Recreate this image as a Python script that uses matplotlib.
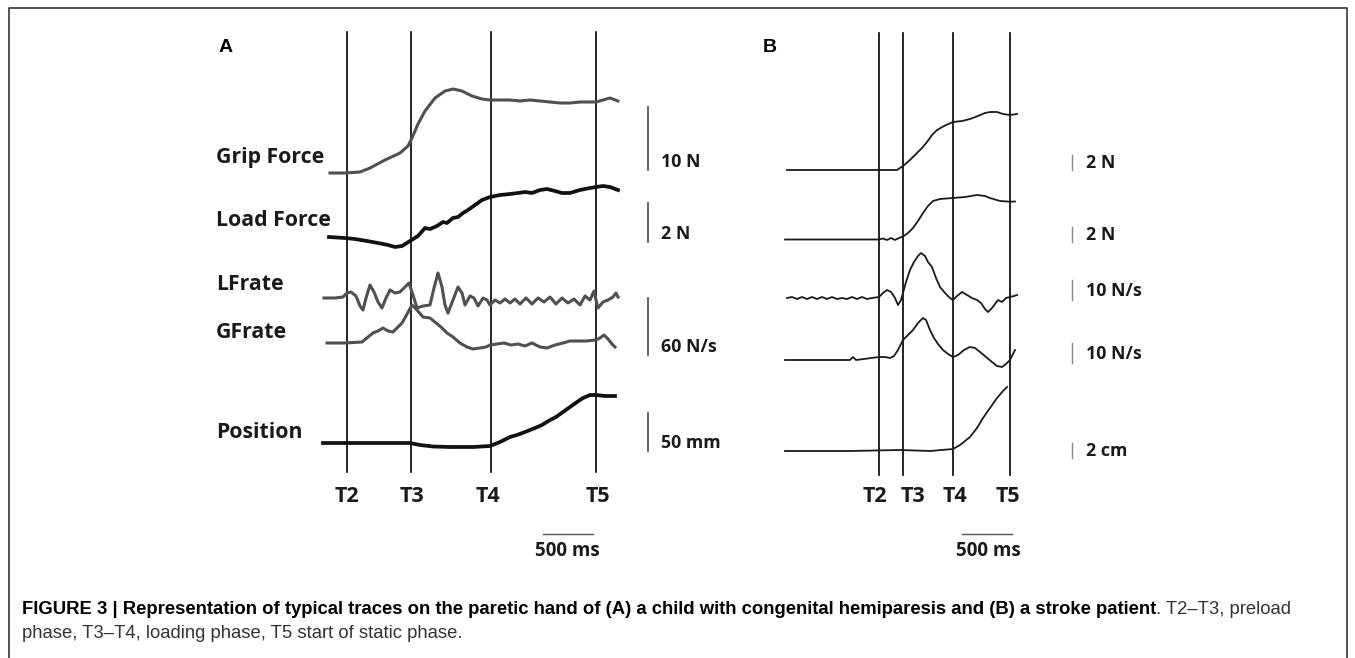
import numpy as np
import matplotlib
matplotlib.use('Agg')
import matplotlib.pyplot as plt

# --- panel A : child with congenital hemiparesis ---
grip_a_x = [330, 345, 360, 370, 385, 400, 408, 412, 418, 425, 435, 445, 453, 462, 472, 482, 490,
            500, 510, 520, 530, 540, 550, 560, 570, 580, 590, 596, 603, 610, 618]
grip_a_y = [173, 173, 172, 168, 160, 153, 146, 138, 124, 111, 98, 91, 89, 91, 96, 99, 100,
            100, 100, 101, 100, 101, 102, 103, 103, 102, 102, 102, 100, 98, 101]

load_a_x = [329, 345, 355, 367, 378, 388, 395, 402, 410, 418, 425, 430, 437, 443, 447, 453, 458, 463,
            468, 475, 482, 490, 500, 510, 518, 525, 532, 540, 547, 555, 562, 570, 580, 590, 596, 603,
            610, 618]
load_a_y = [237, 238, 239, 241, 243, 245, 247, 246, 241, 236, 228, 229, 226, 222, 223, 218, 217, 213,
            210, 205, 200, 197, 195, 194, 193, 192, 193, 190, 189, 191, 193, 193, 190, 188, 187, 186,
            187, 190]

lfrate_a_x = [324, 335, 343, 347, 351, 356, 360, 363, 366, 370, 374, 378, 382, 386, 390, 395, 400,
              405, 409, 413, 417, 423, 430, 434, 438, 442, 445, 448, 453, 458, 462, 465, 470, 474,
              478, 483, 487, 490, 495, 500, 505, 510, 515, 520, 526, 532, 538, 544, 550, 556, 562,
              568, 574, 580, 585, 590, 594, 596, 598, 603, 608, 613, 616, 618]
lfrate_a_y = [298, 298, 297, 293, 292, 296, 306, 310, 298, 285, 292, 302, 308, 298, 290, 293, 292,
              287, 283, 295, 308, 306, 305, 288, 273, 287, 305, 313, 300, 287, 293, 305, 296, 298,
              306, 298, 300, 305, 300, 303, 299, 303, 299, 304, 298, 304, 298, 302, 297, 304, 298,
              303, 299, 305, 296, 300, 291, 300, 308, 302, 300, 297, 293, 297]

gfrate_a_x = [327, 345, 362, 368, 373, 378, 383, 388, 393, 397, 402, 406, 412, 417, 423, 430, 436,
              441, 447, 453, 460, 467, 473, 480, 486, 490, 497, 504, 511, 518, 525, 532, 540, 547,
              555, 563, 570, 578, 586, 596, 600, 604, 608, 612, 615]
gfrate_a_y = [343, 343, 342, 337, 333, 331, 328, 331, 332, 328, 323, 316, 305, 310, 317, 318, 323,
              327, 333, 337, 343, 347, 349, 348, 347, 345, 344, 343, 345, 344, 346, 343, 347, 348,
              345, 343, 341, 341, 341, 340, 338, 335, 339, 344, 347]

pos_a_x = [323, 345, 380, 410, 420, 433, 450, 473, 490, 500, 510, 517, 525, 535, 542, 550, 556, 563,
           570, 577, 583, 590, 596, 605, 615]
pos_a_y = [443, 443, 443, 443, 445, 446.5, 447, 447, 446, 442, 437, 435, 432, 428, 425, 420, 417,
           412, 407, 402, 398, 395, 395, 396, 396]

# --- panel B : stroke patient ---
grip_b_x = [787, 850, 879, 897, 903, 910, 917, 922, 927, 932, 937, 944, 953, 962, 970, 978, 985,
            990, 997, 1003, 1010, 1017]
grip_b_y = [170, 170, 170, 170, 166, 160, 153, 148, 142, 135, 130, 126, 122, 121, 119, 116, 113,
            112, 112, 114, 115, 114]

load_b_x = [785, 850, 879, 883, 887, 891, 895, 899, 903, 908, 913, 918, 923, 928, 933, 940, 953,
            965, 977, 985, 990, 1000, 1010, 1015]
load_b_y = [239.5, 239.5, 239.5, 238.5, 240, 238, 240, 238, 236.5, 233, 228, 221, 213, 206, 201,
            199, 198, 197, 195, 196, 198, 201, 201.7, 201.5]

lfrate_b_x = [787, 792, 797, 802, 807, 812, 817, 822, 827, 832, 837, 842, 847, 852, 857, 862, 867,
              872, 879, 883, 887, 891, 895, 898, 901, 903, 906, 910, 914, 918, 921, 925, 928, 932,
              936, 940, 945, 950, 953, 957, 962, 967, 972, 977, 981, 985, 988, 992, 995, 998, 1002,
              1006, 1010, 1014, 1017]
lfrate_b_y = [298, 297, 299, 297, 299, 297, 299, 297, 299, 297, 299, 298, 299, 297, 299, 297, 299,
              298, 297, 293, 290, 292, 298, 305, 300, 293, 282, 270, 262, 256, 253, 256, 262, 267,
              278, 287, 293, 298, 300, 296, 292, 295, 298, 300, 303, 309, 312, 308, 304, 300, 302,
              298, 297, 296, 295]

gfrate_b_x = [785, 850, 853, 856, 879, 885, 890, 894, 898, 903, 908, 913, 918, 923, 926, 930, 934,
              938, 943, 948, 953, 958, 964, 970, 975, 980, 986, 992, 997, 1002, 1006, 1010, 1015]
gfrate_b_y = [360, 360, 357, 360, 357, 357, 358, 356, 350, 340, 335, 330, 323, 318, 320, 330, 338,
              344, 350, 354, 357, 355, 350, 347, 348, 352, 357, 362, 366, 367, 364, 360, 350]

pos_b_x = [785, 850, 900, 930, 953, 960, 965, 970, 977, 983, 990, 997, 1003, 1007]
pos_b_y = [451, 451, 450, 451, 449, 445, 441, 437, 428, 418, 408, 398, 391, 387]

# event markers and labels
events = ['T2', 'T3', 'T4', 'T5']
events_a = [346.7, 410.7, 490.7, 596]
events_b = [879.3, 903.3, 953.3, 1010]
labels_a = ['Grip Force', 'Load Force', 'LFrate', 'GFrate', 'Position']
units_a = ['10 N', '2 N', '60 N/s', '50 mm']
units_b = ['2 N', '2 N', '10 N/s', '10 N/s', '2 cm']

fig = plt.figure(figsize=(13.55, 6.58), dpi=100)
ax = fig.add_axes([0, 0, 1, 1])
ax.set_xlim(0, 1355)
ax.set_ylim(658, 0)
ax.axis('off')

# frame
ax.plot([9, 9, 1347, 1347], [658, 8, 8, 658], color='#333333', lw=1.2)

# vertical event lines
for x in events_a:
    ax.plot([x, x], [32, 472], color='black', lw=1.2)
for x in events_b:
    ax.plot([x, x], [33, 475], color='black', lw=1.2)

# traces A
ax.plot(grip_a_x, grip_a_y, color='#505050', lw=2.2, solid_joinstyle='round')
ax.plot(load_a_x, load_a_y, color='#111111', lw=2.7, solid_joinstyle='round')
ax.plot(lfrate_a_x, lfrate_a_y, color='#505050', lw=2.2, solid_joinstyle='round')
ax.plot(gfrate_a_x, gfrate_a_y, color='#505050', lw=2.2, solid_joinstyle='round')
ax.plot(pos_a_x, pos_a_y, color='#111111', lw=2.7, solid_joinstyle='round')

# traces B
for xs, ys in [(grip_b_x, grip_b_y), (load_b_x, load_b_y), (lfrate_b_x, lfrate_b_y),
               (gfrate_b_x, gfrate_b_y), (pos_b_x, pos_b_y)]:
    ax.plot(xs, ys, color='#1a1a1a', lw=1.3, solid_joinstyle='round')

lab_font = dict(family='Open Sans', weight='bold', color='#1a1a1a')

# trace names A
for lab, y in zip(labels_a, [157, 221, 285, 332, 432]):
    ax.text(216, y, lab, fontsize=15.3, va='center', ha='left', **lab_font)

# scale bars + units A
for unit, (y0, y1) in zip(units_a, [(107, 170), (203, 242), (298, 355), (413, 451)]):
    ax.plot([648, 648], [y0, y1], color='#555555', lw=1.3)
    ax.text(661, y1 - 8, unit, fontsize=12.8, va='center', ha='left', **lab_font)

# scale bars + units B
for unit, (y0, y1) in zip(units_b, [(155, 170), (227, 242), (280, 300), (343, 363), (443, 458)]):
    ax.plot([1072, 1072], [y0, y1], color='#888888', lw=1.0)
    ax.text(1086, (y0 + y1) / 2 + 1, unit, fontsize=12.8, va='center', ha='left', **lab_font)

# event labels
for ev, x in zip(events, [346.7, 411.7, 488, 598]):
    ax.text(x, 497, ev, fontsize=15.5, ha='center', va='center', **lab_font)
for ev, x in zip(events, [875, 912.7, 955, 1008]):
    ax.text(x, 497, ev, fontsize=15.5, ha='center', va='center', **lab_font)

# 500 ms time bars
ax.plot([543, 593], [534, 534], color='#555555', lw=1.0)
ax.text(567, 551, '500 ms', fontsize=13.5, ha='center', va='center', **lab_font)
ax.plot([962, 1012], [534, 534], color='#555555', lw=1.0)
ax.text(988, 551, '500 ms', fontsize=13.5, ha='center', va='center', **lab_font)

# panel letters
ax.text(226, 47, 'A', fontsize=14, ha='center', va='center', family='Liberation Sans', weight='bold')
ax.text(770, 47, 'B', fontsize=14, ha='center', va='center', family='Liberation Sans', weight='bold')

# caption
cap = ax.text(22, 609, 'FIGURE 3 | Representation of typical traces on the paretic hand of (A) a child '
              'with congenital hemiparesis and (B) a stroke patient', fontsize=13.35,
              family='Liberation Sans', weight='bold', va='center', ha='left')
ax.annotate('. T2\u2013T3, preload', xy=(1, 0.5), xycoords=cap, fontsize=13.35,
            family='Liberation Sans', va='center', ha='left', color='#333333')
ax.text(22, 634, 'phase, T3\u2013T4, loading phase, T5 start of static phase.', fontsize=13.35,
        family='Liberation Sans', va='center', ha='left', color='#333333')

fig.savefig('out.png', dpi=100)
